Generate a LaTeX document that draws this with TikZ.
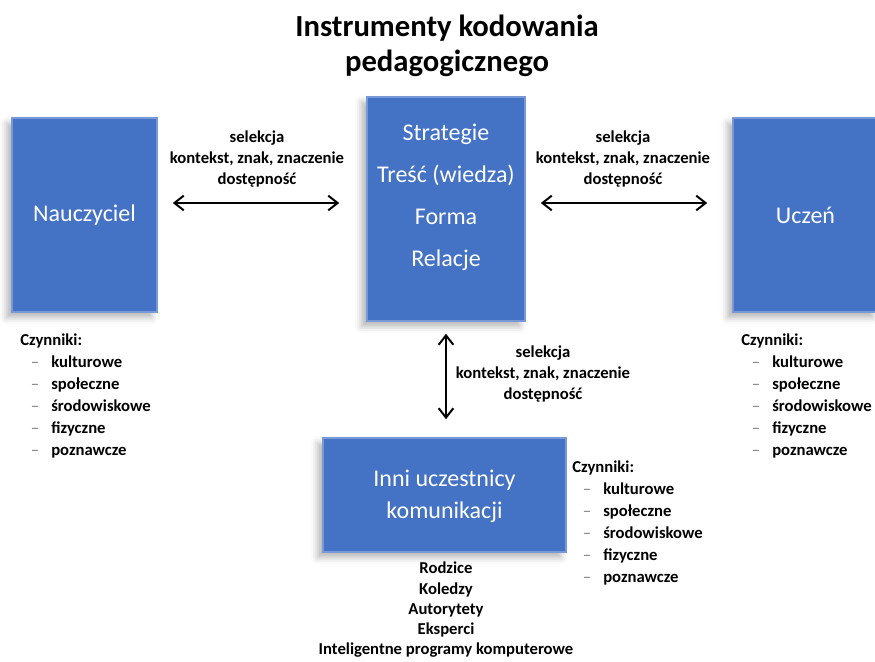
\documentclass[tikz,border=0pt]{standalone}
\usepackage{fontspec}
\setmainfont{Carlito}
\usetikzlibrary{arrows.meta}
\usetikzlibrary{shadows.blur}

\definecolor{boxblue}{RGB}{68,114,196}
\definecolor{boxedge}{RGB}{120,152,216}
\definecolor{dashgrey}{RGB}{125,125,125}

\tikzset{
  box/.style={rectangle, fill=boxblue, draw=boxedge, line width=1.2pt, inner sep=0pt,
    blur shadow={shadow xshift=-4pt, shadow yshift=-4pt, shadow blur radius=5pt, shadow opacity=30}},
  boxtext/.style={font=\fontsize{18}{24}\selectfont, text=white, align=center, inner sep=0.75pt},
  lbl/.style={font=\bfseries\fontsize{12.5}{16}\selectfont, align=center, inner sep=0.75pt},
  dashmark/.style={font=\fontsize{12.5}{16}\selectfont, text=dashgrey, inner sep=0.75pt},
  link/.style={{Straight Barb[length=7pt,width=11pt,line width=1.5pt]}-{Straight Barb[length=7pt,width=11pt,line width=1.5pt]}, line width=1.4pt},
}

% list of factors: name, x, y of the heading
\newcommand{\factorlist}[3]{%
  \node[lbl, anchor=base west] (#1-h) at (#2,#3+5) {Czynniki:};
  \foreach \w [count=\i] in {kulturowe,społeczne,środowiskowe,fizyczne,poznawcze}{
    \node[dashmark, anchor=base] (#1-d\i) at (#2+16,#3+5+22*\i) {–};
    \node[lbl, anchor=base west] (#1-\i) at (#2+31,#3+5+22*\i) {\w};
  }}

\begin{document}
\begin{tikzpicture}[x=0.75pt,y=0.75pt,yscale=-1,xscale=1]
    \useasboundingbox (0,0) rectangle (875,661);

    % Title
    \node[font=\bfseries\fontsize{23}{26}\selectfont, align=center, inner sep=0pt] (title) at (447,46) {Instrumenty kodowania\\pedagogicznego};

    %Shape: Rectangle [Nauczyciel]
    \node[box, minimum width=108.75pt, minimum height=145.5pt] (naucz) at (84.5,215) {};
    \node[boxtext] (nauczt) at (naucz) {Nauczyciel};
    %Shape: Rectangle [centre]
    \node[box, minimum width=118.5pt, minimum height=168pt] (centre) at (446,209) {};
    \node[boxtext, font=\fontsize{18}{31.5}\selectfont] (centret) at (446,197) {Strategie\\Treść (wiedza)\\Forma\\Relacje};
    %Shape: Rectangle [Uczen]
    \node[box, minimum width=108.75pt, minimum height=145.5pt] (uczen) at (805.5,215) {};
    \node[boxtext] (uczent) at (uczen) {Uczeń};
    %Shape: Rectangle [Inni]
    \node[box, minimum width=182.25pt, minimum height=85.5pt] (inni) at (444.5,495) {};
    \node[boxtext] (innit) at (444.5,496) {Inni uczestnicy\\komunikacji};

    %Straight Lines
    \draw[link, shorten <=11.25pt, shorten >=20.25pt] (naucz.east |- 0,203) -- (centre.west |- 0,203);
    \draw[link, shorten <=11.25pt, shorten >=18.75pt] (centre.east |- 0,203) -- (uczen.west |- 0,203);
    \draw[link, shorten <=9pt, shorten >=13.5pt] (centre.south) -- (inni.north -| centre.south);

    % Text Node
    \node[lbl] (selleft) at (257,159) {selekcja\\kontekst, znak, znaczenie\\dostępność};
    % Text Node
    \node[lbl] (selright) at (623,159) {selekcja\\kontekst, znak, znaczenie\\dostępność};
    % Text Node
    \node[lbl] (seldown) at (543,374) {selekcja\\kontekst, znak, znaczenie\\dostępność};
    % Text Node
    \node[lbl, font=\bfseries\fontsize{12.5}{15.2}\selectfont] (others) at (446,610) {Rodzice\\Koledzy\\Autorytety\\Eksperci\\Inteligentne programy komputerowe};

    % factors
    \factorlist{facl}{19}{340}
    \factorlist{facr}{740}{340}
    \factorlist{facm}{571}{467}

\end{tikzpicture}
\end{document}
